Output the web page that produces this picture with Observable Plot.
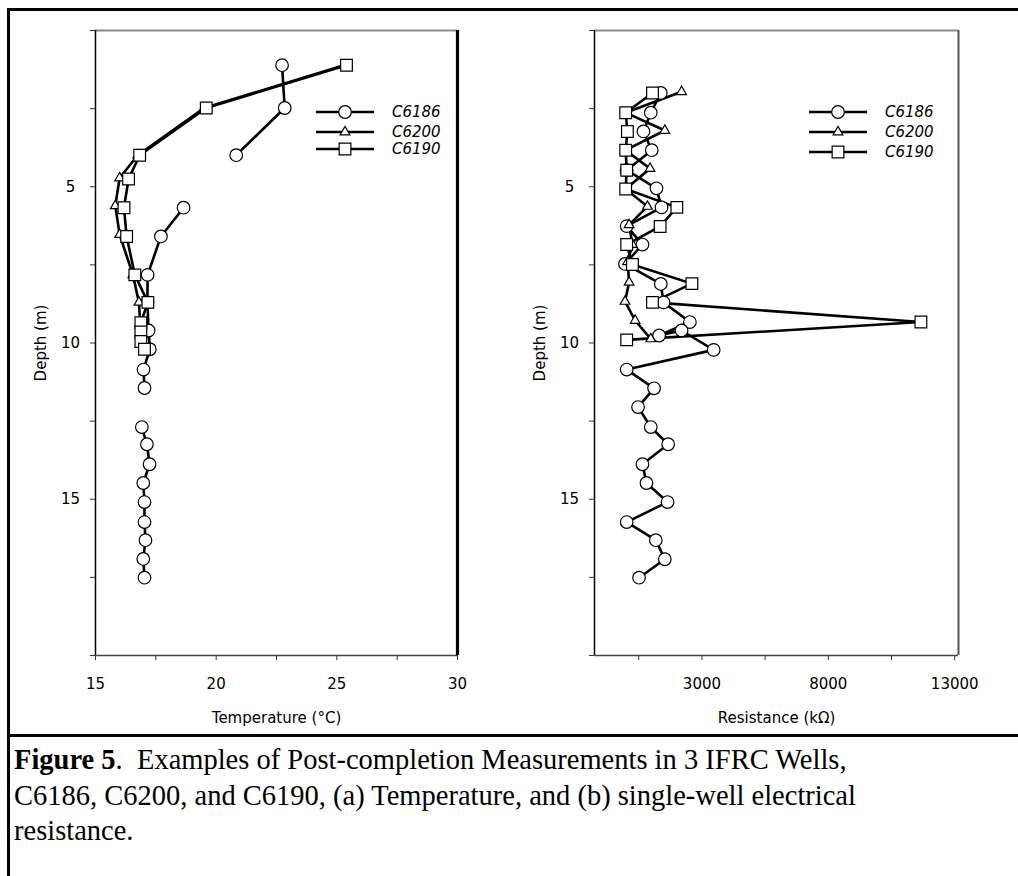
<!DOCTYPE html>
<html>
<head>
<meta charset="utf-8">
<script src="https://cdn.jsdelivr.net/npm/d3@7"></script>
<script src="https://cdn.jsdelivr.net/npm/@observablehq/plot@0.6"></script>
<style>
  body { margin: 0; background: #fff; }
  #fig { position: relative; width: 1018px; height: 876px; overflow: hidden; background: #fff; }
  .abs { position: absolute; }
  #box { left: 7px; top: 8px; width: 1030px; height: 900px; border-left: 3px solid #000; border-top: 3px solid #000; }
  #sep { left: 7px; top: 734px; width: 1030px; height: 0; border-top: 3px solid #000; }
  #caption { left: 14px; top: 742px; width: 1000px; font-family: "Liberation Serif", "Times New Roman", serif; font-size: 28.5px; line-height: 35.5px; color: #000; white-space: nowrap; }
  svg text { font-family: "DejaVu Sans", sans-serif; }
</style>
</head>
<body>
<div id="fig">
  <div id="box" class="abs"></div>
  <div id="left" class="abs" style="left:0;top:0"></div>
  <div id="right" class="abs" style="left:509px;top:0"></div>
  <div id="sep" class="abs"></div>
  <div id="caption" class="abs"><b>Figure 5</b>.&nbsp; Examples of Post-completion Measurements in 3 IFRC Wells,<br>C6186, C6200, and C6190, (a) Temperature, and (b) single-well electrical<br>resistance.</div>
</div>
<script>
// ---- Series names ----
const wells = ["C6186", "C6200", "C6190"];

// ---- (a) Temperature (°C) vs depth (m); NaN breaks the line ----
const tDepth6186 = [1.11, 2.48, 3.99, NaN, 5.67, 6.59, 7.82, 8.7, 9.6, 10.2, 10.85, 11.44, NaN, 12.69, 13.24, 13.88, 14.48, 15.09, 15.73, 16.31, 16.91, 17.51];
const temp6186   = [22.73, 22.84, 20.83, NaN, 18.65, 17.71, 17.16, 17.15, 17.2, 17.25, 16.99, 17.03, NaN, 16.92, 17.13, 17.24, 16.98, 17.03, 17.03, 17.07, 16.98, 17.03];
const tDepth6200 = [1.11, 2.48, 3.99, 4.72, 5.61, 6.53, 7.82, 8.7, 9.35, 9.65, 9.95];
const temp6200   = [25.3, 19.5, 16.75, 16.0, 15.82, 16.0, 16.55, 16.8, 16.85, 16.85, 16.9];
const tDepth6190 = [1.11, 2.48, 3.99, 4.75, 5.67, 6.59, 7.82, 8.7, 9.35, 9.65, 9.95, 10.2];
const temp6190   = [25.4, 19.59, 16.83, 16.37, 16.18, 16.29, 16.63, 17.17, 16.88, 16.88, 16.88, 17.03];

// ---- (b) Resistance (kΩ) vs depth (m) ----
const rDepth6186 = [2.0, 2.63, 3.23, 3.83, 4.47, 5.05, 5.66, 6.26, 6.85, 7.47, 8.11, 8.7, 9.33, 9.76, 9.6, 10.22, 10.85, 11.45, 12.05, 12.69, 13.24, 13.88, 14.48, 15.09, 15.73, 16.31, 16.92, 17.51];
const res6186    = [1373, 976, 687, 1016, 20, 1202, 1401, 24, 647, -44, 1373, 1480, 2524, 1306, 2194, 3464, 24, 1107, 472, 976, 1663, 647, 806, 1639, 24, 1175, 1532, 512];
const rDepth6200 = [1.96, 2.63, 3.2, 3.83, 4.42, 5.07, 5.63, 6.22, 6.85, 7.4, 8.06, 8.67, 9.28, 9.87];
const res6200    = [2194, -20, 1532, -20, 948, -20, 845, 119, 250, 60, 119, -44, 357, 976];
const rDepth6190 = [2.0, 2.63, 3.23, 3.83, 4.47, 5.07, 5.66, 6.27, 6.85, 7.49, 8.1, 8.7, 9.33, 9.9];
const res6190    = [1044, -16, 52, -16, 24, -16, 2008, 1346, 24, 250, 2603, 1044, 11663, 24];

// ---- Axes ----
const depthTicks = [0, 2.5, 5, 7.5, 10, 12.5, 15, 17.5, 20];
const depthLabels = [5, 10, 15];
const tempTicks = [15, 17.5, 20, 22.5, 25, 27.5, 30];
const tempLabels = [15, 20, 25, 30];
const resTicks = [500, 3000, 5500, 8000, 10500, 13000];
const resLabels = [3000, 8000, 13000];

const symbols = {C6186: "circle", C6200: "triangle", C6190: "square"};
const sizes = {C6186: 6.3, C6200: 3.6, C6190: 6.6};

function rows(well, depth, vals) {
  return depth.map((d, i) => ({well, depth: d, value: vals[i]}));
}
const tempData = [rows("C6186", tDepth6186, temp6186), rows("C6200", tDepth6200, temp6200), rows("C6190", tDepth6190, temp6190)];
const resData = [rows("C6186", rDepth6186, res6186), rows("C6200", rDepth6200, res6200), rows("C6190", rDepth6190, res6190)];

function panel({data, xDomain, xTicks, xLabels, xTitle, marginLeft, marginRight, rightStroke, rightWidth}) {
  const marks = [
    Plot.axisY({ticks: depthTicks, tickSize: 5, tickPadding: 20, textAnchor: "middle",
      tickFormat: d => depthLabels.includes(d) ? String(d) : "",
      label: "Depth (m)", labelAnchor: "center", labelOffset: 60, labelArrow: "none", stroke: "#333", fontSize: 15}),
    Plot.axisX({ticks: xTicks, tickSize: 5, tickPadding: 18,
      tickFormat: d => xLabels.includes(d) ? String(d) : "",
      label: xTitle, labelAnchor: "center", labelOffset: 67, labelArrow: "none", stroke: "#333", fontSize: 15}),
    Plot.ruleY([0], {stroke: "#8a8a8a", strokeWidth: 2}),
    Plot.ruleY([20], {stroke: "#444", strokeWidth: 1.5}),
    Plot.ruleX([xDomain[0]], {stroke: "#000", strokeWidth: 1.5}),
    Plot.ruleX([xDomain[1]], {stroke: rightStroke, strokeWidth: rightWidth}),
  ];
  for (const s of data) {
    marks.push(Plot.line(s, {x: "value", y: "depth", stroke: "#000", strokeWidth: 2.6, curve: "linear"}));
  }
  for (const s of data) {
    const w = s[0].well;
    marks.push(Plot.dot(s, {x: "value", y: "depth", symbol: () => symbols[w], r: sizes[w], fill: "#fff", stroke: "#000", strokeWidth: 1.2}));
  }
  return Plot.plot({
    width: 509, height: 735,
    marginLeft, marginRight, marginTop: 30, marginBottom: 80,
    x: {domain: xDomain},
    y: {domain: [0, 20], reverse: true},
    symbol: {type: "identity"},
    style: {fontFamily: "DejaVu Sans, sans-serif", fontSize: "15px", color: "#000", background: "transparent", overflow: "visible"},
    marks
  });
}

document.getElementById("left").appendChild(panel({
  data: tempData, xDomain: [15, 30], xTicks: tempTicks, xLabels: tempLabels,
  xTitle: "Temperature (°C)", marginLeft: 95, marginRight: 52, rightStroke: "#000", rightWidth: 3.2
}));
document.getElementById("right").appendChild(panel({
  data: resData, xDomain: [-1250, 13150], xTicks: resTicks, xLabels: resLabels,
  xTitle: "Resistance (kΩ)", marginLeft: 85, marginRight: 60, rightStroke: "#555", rightWidth: 2
}));

// ---- Legends ----
function legend(left, top, rowYs) {
  const W = 140, H = 60;
  const svg = d3.create("svg").attr("width", W).attr("height", H)
    .style("position", "absolute").style("left", left + "px").style("top", top + "px").style("overflow", "visible");
  wells.forEach((w, i) => {
    const y = rowYs[i];
    svg.append("line").attr("x1", 0).attr("x2", 58).attr("y1", y).attr("y2", y).attr("stroke", "#000").attr("stroke-width", 2.6);
    const sym = w === "C6186" ? d3.symbolCircle : w === "C6200" ? d3.symbolTriangle : d3.symbolSquare;
    const r = sizes[w];
    svg.append("path").attr("d", d3.symbol(sym, Math.PI * r * r)()).attr("transform", `translate(29,${y})`)
      .attr("fill", "#fff").attr("stroke", "#000").attr("stroke-width", 1.2);
    svg.append("text").attr("x", 76).attr("y", y).attr("dy", "0.36em").attr("font-style", "italic")
      .attr("font-size", 15).text(w);
  });
  document.getElementById("fig").appendChild(svg.node());
}
legend(316, 100, [12, 32, 49]);
legend(809, 100, [12, 32, 52]);
</script>
</body>
</html>
